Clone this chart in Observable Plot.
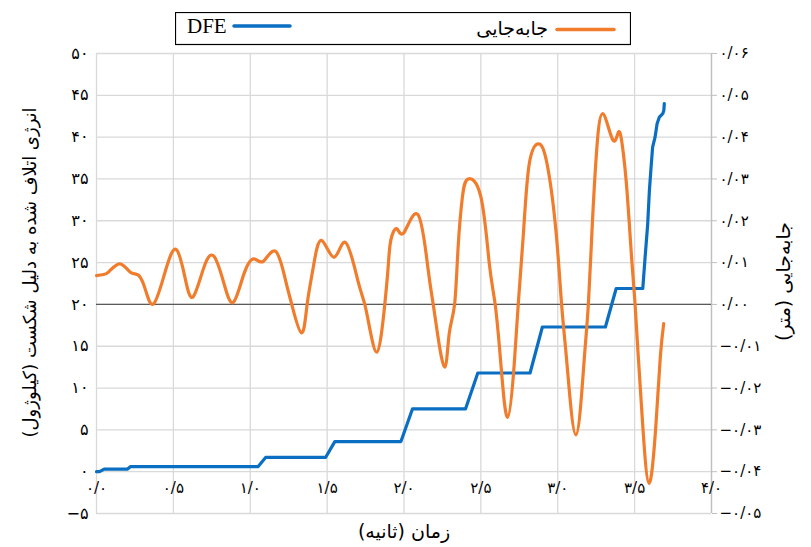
<!DOCTYPE html>
<html>
<head>
<meta charset="utf-8">
<script src="https://cdn.jsdelivr.net/npm/d3@7"></script>
<script src="https://cdn.jsdelivr.net/npm/@observablehq/plot@0.6"></script>
<style>
  body { margin: 0; background: #fff; }
  #wrap { position: relative; width: 811px; height: 547px; }
  #legend { position: absolute; left: 175px; top: 12px; width: 456px; height: 32px; }
</style>
</head>
<body>
<div id="wrap"><div id="legend"></div></div>
<script>
// Time axis (s)
const xTicks = [0, 0.5, 1, 1.5, 2, 2.5, 3, 3.5, 4];
// Left axis: dissipated energy (kJ)
const leftTicks = [-5, 0, 5, 10, 15, 20, 25, 30, 35, 40, 45, 50];
// Right axis: displacement (m); 0.00 sits on 20 kJ, 0.01 m per 5 kJ
const dispZeroOnLeft = 20;
const kJPerMetre = 500;

// DFE (kJ) against time (s)
const dfeTime = [0, 0.02, 0.05, 0.20, 0.22, 1.05, 1.10, 1.49, 1.55, 1.98, 2.055, 2.40, 2.48, 2.82, 2.90, 3.31, 3.38, 3.553, 3.568, 3.585, 3.596, 3.607, 3.617, 3.633, 3.646, 3.661, 3.683, 3.690, 3.693];
const dfeValue = [0, 0, 0.3, 0.3, 0.6, 0.6, 1.7, 1.7, 3.6, 3.6, 7.5, 7.5, 11.8, 11.8, 17.3, 17.3, 21.9, 21.9, 25.6, 29.6, 33.6, 36.4, 38.8, 40.0, 41.6, 42.4, 42.8, 43.2, 44.0];

// Displacement (m) against time (s)
const dispTime = [0, 0.04, 0.08, 0.152, 0.22, 0.275, 0.32, 0.373, 0.449, 0.52, 0.58, 0.63, 0.699, 0.764, 0.829, 0.89, 0.959, 1.024, 1.085, 1.165, 1.23, 1.27, 1.333, 1.37, 1.41, 1.463, 1.545, 1.62, 1.70, 1.745, 1.784, 1.823, 1.853, 1.875, 1.897, 1.914, 1.953, 2.0, 2.09, 2.155, 2.19, 2.218, 2.265, 2.294, 2.329, 2.352, 2.38, 2.417, 2.50, 2.555, 2.593, 2.63, 2.674, 2.717, 2.743, 2.778, 2.815, 2.875, 2.93, 2.988, 3.025, 3.06, 3.118, 3.17, 3.199, 3.225, 3.25, 3.29, 3.357, 3.395, 3.42, 3.45, 3.48, 3.503, 3.524, 3.552, 3.594, 3.639, 3.667, 3.689];
const dispValue = [0.0069, 0.0071, 0.0078, 0.0097, 0.0077, 0.0069, 0.0033, 0.0002, 0.0081, 0.0131, 0.0057, 0.0019, 0.0089, 0.0115, 0.0050, 0.0005, 0.0073, 0.0109, 0.0103, 0.0127, 0.0057, 0.0, -0.0068, 0.0, 0.0089, 0.0153, 0.0113, 0.0148, 0.0057, 0.0, -0.0070, -0.0114, -0.0070, 0.0, 0.0089, 0.0153, 0.0181, 0.0172, 0.0215, 0.0089, 0.0, -0.0070, -0.0150, -0.0070, 0.0, 0.0137, 0.0257, 0.0300, 0.0257, 0.0097, 0.0, -0.0142, -0.0270, -0.0142, 0.0, 0.0177, 0.0337, 0.0384, 0.0337, 0.0177, 0.0, -0.0142, -0.0312, -0.0142, 0.0, 0.0193, 0.0352, 0.0456, 0.0394, 0.0412, 0.0380, 0.0273, 0.0113, 0.0, -0.0126, -0.0285, -0.0428, -0.0285, -0.0126, -0.0046];

const RLM = "\u200F";
const xTitle = "زمان (ثانیه)" + RLM;
const leftTitle = "انرژی اتلاف شده به دلیل شکست (کیلوژول)" + RLM;
const rightTitle = "جابه‌جایی (متر)" + RLM;
const dfeName = "DFE";
const dispName = "جابه‌جایی";

const blue = "#0a6fc2";
const orange = "#f07c2c";
const faFont = "'DejaVu Sans', sans-serif";

// Persian digits, "/" as decimal separator
const faDigits = "۰۱۲۳۴۵۶۷۸۹";
function fa(v, decimals) {
  const s = (Math.abs(v) < 1e-9 ? 0 : v).toFixed(decimals);
  return s.replace(/\d/g, d => faDigits[d]).replace(".", "/").replace("-", "\u2212");
}
const toRight = v => (v - dispZeroOnLeft) / kJPerMetre;

const dfe = dfeTime.map((t, i) => ({t, v: dfeValue[i]}));
const disp = dispTime.map((t, i) => ({t, v: dispZeroOnLeft + kJPerMetre * dispValue[i]}));

const chart = Plot.plot({
  width: 811,
  height: 547,
  marginTop: 53,
  marginBottom: 34,
  marginLeft: 96,
  marginRight: 100,
  x: {domain: [0, 4]},
  y: {domain: [-5, 50]},
  style: {fontFamily: faFont, fontSize: "15px", color: "#000", background: "#fff"},
  marks: [
    Plot.gridY(leftTicks, {stroke: "#d9d9d9", strokeOpacity: 1, strokeWidth: 1.3}),
    Plot.gridX(xTicks, {stroke: "#d9d9d9", strokeOpacity: 1, strokeWidth: 1.3}),
    Plot.ruleX([4], {stroke: "#bfbfbf", strokeWidth: 1.3}),
    Plot.axisY(leftTicks, {anchor: "left", tickSize: 0, tickPadding: 8, tickFormat: v => fa(v, 0), label: null, fontSize: 16}),
    Plot.axisY(leftTicks, {anchor: "right", tickSize: 5, tickPadding: 3, stroke: "#bfbfbf", tickFormat: v => fa(toRight(v), 2), label: null, fontSize: 15}),
    Plot.axisX(xTicks, {anchor: "bottom", tickSize: 0, tickPadding: 0, dy: -31, tickFormat: v => fa(v, 1), label: null, fontSize: 15}),
    Plot.ruleY([dispZeroOnLeft], {stroke: "#5a5a5a", strokeWidth: 1.3}),
    Plot.line(dfe, {x: "t", y: "v", stroke: blue, strokeWidth: 3.2}),
    Plot.line(disp, {x: "t", y: "v", stroke: orange, strokeWidth: 3.2, curve: "natural"}),
    Plot.text([leftTitle], {text: d => d, frameAnchor: "left", textAnchor: "middle", dx: -66, dy: -11, rotate: -90, fontSize: 18}),
    Plot.text([rightTitle], {text: d => d, frameAnchor: "right", textAnchor: "middle", dx: 72, dy: -2, rotate: -90, fontSize: 19}),
    Plot.text([xTitle], {text: d => d, frameAnchor: "bottom", textAnchor: "middle", dy: 24, fontSize: 19})
  ]
});
document.getElementById("wrap").prepend(chart);
chart.style.position = "absolute";
chart.style.left = "0";
chart.style.top = "0";

// Legend box above the plot area
const leg = d3.select("#legend").append("svg").attr("width", 456).attr("height", 34);
leg.append("rect").attr("x", 0.5).attr("y", 0.5).attr("width", 455).attr("height", 32)
  .attr("fill", "#fff").attr("stroke", "#000").attr("stroke-width", 1.2);
leg.append("text").attr("x", 12).attr("y", 21).text(dfeName)
  .attr("font-family", "'Liberation Serif', serif").attr("font-size", 21);
leg.append("line").attr("x1", 59).attr("x2", 115).attr("y1", 14).attr("y2", 14)
  .attr("stroke", blue).attr("stroke-width", 3.5).attr("stroke-linecap", "round");
leg.append("text").attr("x", 373).attr("y", 23).attr("text-anchor", "end").text(dispName + RLM)
  .attr("font-family", faFont).attr("font-size", 19);
leg.append("line").attr("x1", 382).attr("x2", 439).attr("y1", 17.5).attr("y2", 17.5)
  .attr("stroke", orange).attr("stroke-width", 3.5).attr("stroke-linecap", "round");
</script>
</body>
</html>
